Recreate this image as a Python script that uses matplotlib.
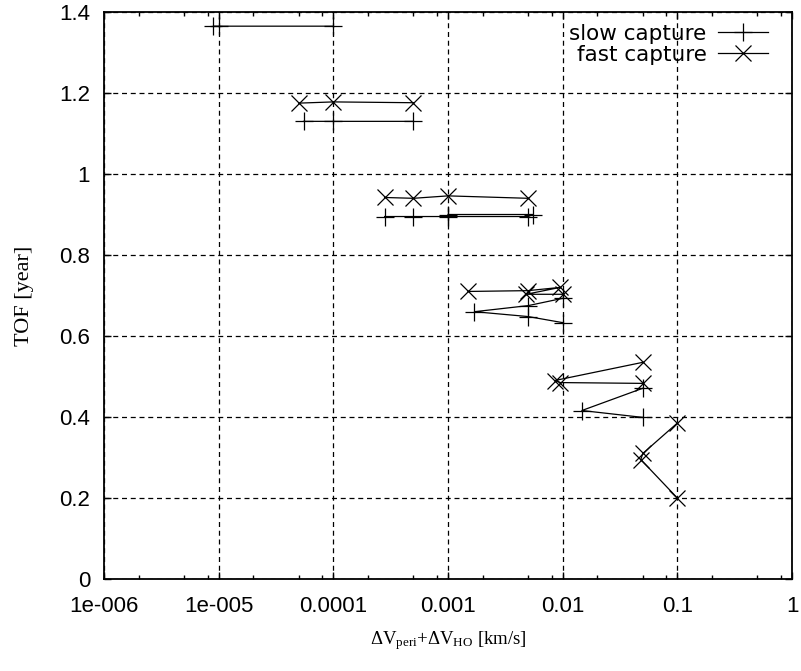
import numpy as np
import matplotlib
matplotlib.use("Agg")
import matplotlib.pyplot as plt
from matplotlib.ticker import LogLocator, FixedLocator, FixedFormatter

# ---- data: delta-V [km/s] vs. time of flight [year], one list per branch ----
slow_x = [
    [9e-6, 1e-5, 1e-4],
    [5.5e-5, 1e-4, 5e-4],
    [2.8e-4, 5e-4, 1e-3, 5e-3, 5.5e-3, 1e-3],
    [1e-2, 5e-3, 1.7e-3, 5e-3, 1e-2],
    [5e-2, 1.47e-2, 5e-2],
]
slow_y = [
    [1.365, 1.365, 1.365],
    [1.13, 1.13, 1.13],
    [0.895, 0.895, 0.895, 0.895, 0.9, 0.9],
    [0.693, 0.675, 0.66, 0.648, 0.633],
    [0.471, 0.416, 0.399],
]
fast_x = [
    [5e-5, 1e-4, 5e-4],
    [2.8e-4, 5e-4, 1e-3, 5e-3],
    [1.5e-3, 5e-3, 9.5e-3, 4.8e-3, 1e-2],
    [5e-2, 8.5e-3, 9.5e-3, 5e-2],
    [1e-1, 5e-2, 4.8e-2, 1e-1],
]
fast_y = [
    [1.175, 1.178, 1.176],
    [0.942, 0.94, 0.946, 0.94],
    [0.71, 0.712, 0.72, 0.703, 0.703],
    [0.535, 0.49, 0.485, 0.483],
    [0.385, 0.31, 0.295, 0.2],
]
series_labels = ["slow capture", "fast capture"]
x_ticks = [1e-6, 1e-5, 1e-4, 1e-3, 1e-2, 1e-1, 1]
x_ticklabels = ["1e-006", "1e-005", "0.0001", "0.001", "0.01", "0.1", "1"]
y_ticks = [0, 0.2, 0.4, 0.6, 0.8, 1.0, 1.2, 1.4]
y_ticklabels = ["0", "0.2", "0.4", "0.6", "0.8", "1", "1.2", "1.4"]


def joined(groups):
    """Concatenate branches with NaN breaks so each branch is its own polyline."""
    out = []
    for g in groups:
        out.extend(g)
        out.append(np.nan)
    return np.array(out[:-1], dtype=float)


plt.rcParams["mathtext.fontset"] = "custom"
plt.rcParams["mathtext.rm"] = "Liberation Serif"
plt.rcParams["mathtext.it"] = "Liberation Serif:italic"

W, H = 801, 671
fig = plt.figure(figsize=(W / 100, H / 100), dpi=100)
L, R, T, B = 104, 792, 12, 579
ax = fig.add_axes([L / W, 1 - B / H, (R - L) / W, (B - T) / H])

ax.set_xscale("log")
ax.set_xlim(1e-6, 1)
ax.set_ylim(0, 1.4)

line_kw = dict(color="black", lw=0.9, mew=0.9, clip_on=False)
ax.plot(joined(slow_x), joined(slow_y), marker="+", ms=13, label=series_labels[0], **line_kw)
ax.plot(joined(fast_x), joined(fast_y), marker="x", ms=12, label=series_labels[1], **line_kw)

ax.xaxis.set_major_locator(FixedLocator(x_ticks))
ax.xaxis.set_major_formatter(FixedFormatter(x_ticklabels))
ax.xaxis.set_minor_locator(LogLocator(base=10, subs=(2, 5, 8)))
ax.xaxis.set_minor_formatter(plt.NullFormatter())
ax.yaxis.set_major_locator(FixedLocator(y_ticks))
ax.yaxis.set_major_formatter(FixedFormatter(y_ticklabels))

ax.tick_params(which="both", direction="in", top=True, right=True, color="black")
ax.tick_params(which="major", length=5, width=1)
ax.tick_params(which="minor", length=3, width=1)
ax.tick_params(axis="x", which="major", pad=12)
ax.tick_params(axis="y", which="major", pad=10)
for lab in ax.get_xticklabels() + ax.get_yticklabels():
    lab.set_fontfamily("Liberation Sans")
    lab.set_fontsize(16)

for s in ax.spines.values():
    s.set_linewidth(1.3)
    s.set_color("black")

ax.grid(True, which="major", color="black", lw=0.9, linestyle=(0, (4, 3)))
ax.set_axisbelow(True)

ax.set_xlabel(r"$\Delta$V$_{\mathrm{peri}}$+$\Delta$V$_{\mathrm{HO}}$ [km/s]",
              fontfamily="Liberation Serif", fontsize=13.5, labelpad=9)
ax.set_ylabel("TOF [year]", fontfamily="Liberation Serif", fontsize=16, labelpad=18)

ax.legend(loc="upper right", bbox_to_anchor=(0.965, 0.979), frameon=False,
          markerfirst=False, handlelength=2.3, handletextpad=0.55,
          borderpad=0, borderaxespad=0, labelspacing=0.05,
          prop={"family": "DejaVu Sans", "size": 15.5})

fig.savefig("out.png", dpi=100)
